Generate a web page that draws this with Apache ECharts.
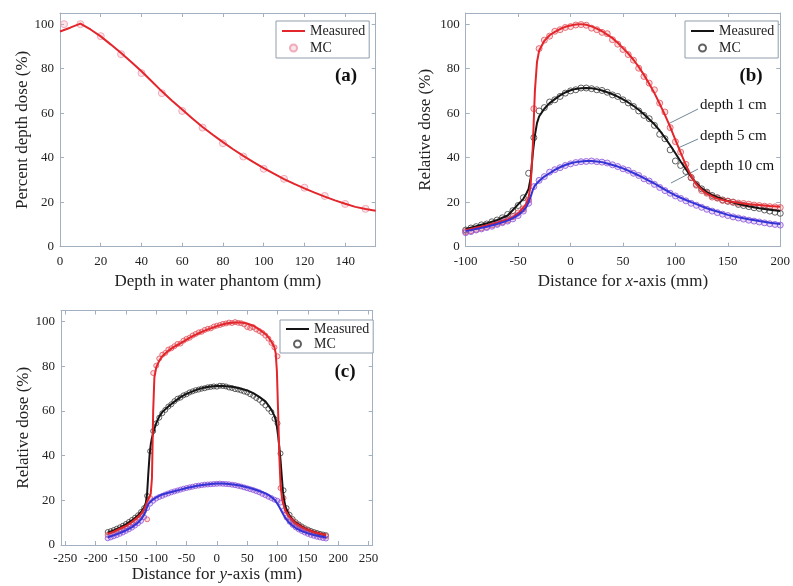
<!DOCTYPE html>
<html>
<head>
<meta charset="utf-8">
<script src="https://cdn.jsdelivr.net/npm/echarts@6/dist/echarts.min.js"></script>
<style>html,body{margin:0;padding:0;background:#fff}#c{width:793px;height:586px}</style>
</head>
<body>
<div id="c"></div>
<script>
// ---------- Panel (a): percent depth dose ----------
const depthA = [0,5,10,15,20,25,30,35,40,45,50,55,60,65,70,75,80,85,90,95,100,105,110,115,120,125,130,135,140,145,150,155];
const measuredA = [96.7,98.4,100.2,97.6,94.5,90.8,87,83,78.8,74.3,69.8,65.6,61.6,57.6,53.8,50.3,47,43.8,40.8,38,35.3,32.8,30.4,28.2,26.2,24.3,22.5,20.8,19.3,17.9,16.9,16.2];
const mcDepthA = [2,10,20,30,40,50,60,70,80,90,100,110,120,130,140,150];
const mcA = [100,100,94.6,86.5,78,69,61,53.5,46.5,40.5,35,30.5,26.5,22.8,19.2,17];

// ---------- Panel (b): x-axis profiles ----------
const xB = [-100,-90,-80,-70,-60,-55,-50,-45,-42,-40,-38,-36,-34,-32,-30,-25,-20,-15,-10,-5,0,5,10,15,20,25,30,35,40,45,50,55,60,65,70,75,80,85,90,95,100,105,110,115,120,125,130,135,140,150,160,170,180,190,200];
const red1cmB = [7.5,8.5,9.5,10.8,12.2, 13.3,15,17.5,19.5,22, 28,45,70,83,88, 92.5,95,96.5,97.8,98.8, 99.4,99.8,100,99.7,99, 98,96.8,95.3,93.7,91.6, 89.2,86.8,84,80.8,77.2, 73.2,69,64.2,59.2,53.8, 48,42.3,36.7,31.8,28, 25.6,23.8,22.6,21.6,20.4, 19.7,19.1,18.7,18.3,18];
const black5cmB = [8,9.2,10.5,12,14, 16.5,19,21.5,24,26, 31,42,50,55.5,58.5, 62,64.5,66.3,68,69.3, 70.3,70.9,71.2,71.3,71.2, 70.8,70.2,69.4,68.5,67.4, 66.2,64.8,63.3,61.5,59.5, 57.3,55,52.2,49,45.6, 42,38.3,34.8,31.5,28.5, 26.2,24.5,23.2,22.2,20.5, 19.2,18.2,17.3,16.6,16];
const blue10cmB = [7,8,9,10.2,11.7, 12.8,14.2,16.2,18,20, 22.5,25.5,27.5,28.5,29.5, 31.5,33,34.5,35.7,36.7, 37.5,38,38.3,38.5,38.5, 38.3,38,37.4,36.7,36, 35.2,34.2,33.1,32,30.8, 29.6,28.4,27,25.6,24.3, 23.1,22,21,20,19.1, 18.2,17.3,16.5,15.8,14.3, 13.2,12.3,11.5,10.8,10.2];
const mcXB = [-100,-95,-90,-85,-80,-75,-70,-65,-60,-55,-50,-45,-40,-35,-30,-25,-20,-15,-10,-5,0,5,10,15,20,25,30,35,40,45,50,55,60,65,70,75,80,85,90,95,100,105,110,115,120,125,130,135,140,145,150,155,160,165,170,175,180,185,190,195,200];
const mcRedB = [6.8,7.2,7.8,8.5,9,9.8,10.5,11.2,12,13.5,15.2,17,21, 62,89,92.8,94.6,96.8,97.5,98.5, 98.9,99.6,99.8,99.5,98.2,97.5,96.3,95.7,93,91, 88.6,86.3,83.8,80.2,76.5,73.5,70.5,64.5,60.5,53.5, 47.2,42.5,37,31.2,27.6,25.2,24,22.3,21.8,20.8, 20.5,20,19.6,19.4,19.1,18.7,18.5,18.2,18,17.9,17.6];
const mcBlackB = [7.5,8.4,9,9.8,10.2,11.2,12,13,14.5,16.2,18.5,22,33, 49,61,62.5,65,66,67.5,69, 70,70.5,71.3,71.3,71,70.5,70.2,69.4,68.2,67.5, 66,64.6,63,61,59,57.5,54.5,50.5,48.5,43.5, 38.5,36.5,33.8,31,28,26,24.5,23,22,21, 20.4,20,19,18.5,18,17.5,17.2,16.5,16,15.5,15];
const mcBlueB = [6.3,6.8,7.5,8,8.6,9.2,10,10.8,11.5,12.5,14,16,19.5, 27,29.8,31.5,33.5,34.6,35.5,36.5, 37.2,37.8,38.2,38.3,38.5,38.2,38,37.6,36.8,36, 35,34.3,33,32,30.5,29.5,28,26.6,25.2,24, 22.8,21.7,20.6,19.5,18.6,17.7,16.8,16,15.3,14.6, 14,13.4,12.9,12.4,11.9,11.5,11.1,10.7,10.3,10,9.7];

// ---------- Panel (c): y-axis profiles ----------
const xC = [-180,-170,-160,-150,-140,-130,-125,-120,-117,-115,-113,-111,-109,-107,-105,-103,-100,-95,-90,-80,-70,-60,-50,-40,-30,-20,-10,0,10,20,30,40,50,60,70,80,85,90,95,97,99,101,103,105,107,109,111,113,115,120,125,130,140,150,160,170,180];
const red1cmC = [5,6,7.3,8.5,10.3, 12.5,14,16,17.8,19.5, 20.5,21.5,23,30,60, 75,79.5,82.5,84.5,87, 88.8,90.3,92,93.5,94.8, 96,97,98,98.8,99.4, 99.6,99.6,99.2,98.2,96.5, 94.5,93,91,88.5,86, 78,60,40,27,22, 19,17,15.5,14.5,12.5, 11,9.7,8,6.7,5.7, 5,4.5];
const black5cmC = [5.5,6.5,7.8,9.2,11, 13.2,14.8,16.8,19,23, 32,40,45,48,50, 52,54.5,57.5,59.5,62, 64.2,66.2,67.7,68.8,69.8, 70.5,71,71.2,71.2,71, 70.6,70,69.2,68,66.3, 64.3,62.5,60.5,57.8,56, 53,49,44,38,31, 24,20,17.5,15.8,13, 11.2,10,8.2,6.8,5.8, 5,4.5];
const blue10cmC = [3.5,4.3,5.3,6.5,8, 10,11.5,13.5,15.5,17, 18.3,19,19.5,20,20.4, 20.8,21.3,22,22.6,23.4, 24.1,24.8,25.5,26.1,26.6, 27,27.3,27.5,27.5,27.3, 27,26.5,25.9,25.1,24.2, 23.1,22.4,21.5,20.3,19.6, 18.8,18,17,16,15, 14,13,12.2,11.4,9.8, 8.6,7.6,6.2,5.2,4.5, 3.9,3.4];
const mcXC = [-180,-175,-170,-165,-160,-155,-150,-145,-140,-135,-130,-125,-120,-115,-110,-105,-100,-95,-90,-85,-80,-75,-70,-65,-60,-55,-50,-45,-40,-35,-30,-25,-20,-15,-10,-5,0,5,10,15,20,25,30,35,40,45,50,55,60,65,70,75,80,85,90,95,100,105,110,115,120,125,130,135,140,145,150,155,160,165,170,175,180];
const mcRedC = [4.5,5,5.6,6.2,6.8,7.6,8.3,9.2,10.1,11.2,12.3, 13.6,15.2,11.5,21,77, 80.3,83.5,85.2,86,87.5,88.1,89,90,90.2,91.5, 92.3,92.8,93.8,94.5,95.2,95.5,96.3,96.8,97,97.8, 98.2,98.5,99,99.2,99.6,99.4,99.8,99.5,99.3,98.8, 97.6,97.2,97.5,96.5,95.8,95,93.8,92.4,90.5,88.5, 84.5,25.5,21,15,12.3,10.8,9.5,8.6,7.8,7, 6.4,5.8,5.3,4.9,4.5,4.2,4];
const mcBlackC = [5.8,6.2,6.7,7.3,7.9,8.6,9.4,10.3,11.2,12.2,13.3, 14.8,16.5,22,42,51, 54.5,57,59,60.5,62,63,64.4,65.5,66,67, 67.5,68.3,68.8,69.3,69.6,70,70.2,70.6,70.8,71, 70.9,71.3,71.2,71,70.5,70.3,69.8,69.6,69.2,68.7, 68.3,67.5,66.8,65.8,65,63.7,62.5,61,59.5,56.5, 54.5,41,24.5,16.5,13.5,11.6,10.2,9.2,8.3,7.5, 6.9,6.3,5.8,5.4,5,4.7,4.4];
const mcBlueC = [3,3.4,3.9,4.4,5,5.6,6.3,7,7.8,8.7,9.7, 10.8,12.5,16.5,18.5,19.8, 20.8,21.5,22,22.6,23.1,23.6,24,24.4,24.8,25.2, 25.5,25.8,26.1,26.4,26.6,26.8,27,27.1,27.2,27.3, 27.4,27.5,27.4,27.3,27.2,27,26.8,26.5,26.2,25.8, 25.4,25,24.6,24.1,23.6,22.9,22.3,21.6,21,20.3, 19.8,19,15.5,12.3,10.4,9,7.9,7,6.3,5.6, 5,4.5,4.1,3.7,3.4,3.1,2.9];

// ---------- tick labels ----------
const ticksXA = [0,20,40,60,80,100,120,140];
const ticksXB = [-100,-50,0,50,100,150,200];
const ticksXC = [-250,-200,-150,-100,-50,0,50,100,150,200,250];
const ticksY = [0,20,40,60,80,100];

const FONT = "'Liberation Serif','Times New Roman',serif";
const BOX = '#a3b0bf';
const RED = '#e3262b', BLACK = '#141414', BLUE = '#3434d6';

function zip(xs, ys){ return xs.map((x,i)=>[x, ys[i]]); }

function xPair(gi, min, max, ticks, name, gap, margin){
  const base = {type:'value', gridIndex:gi, min:min, max:max,
    axisLine:{show:true,onZero:false,lineStyle:{color:BOX,width:1}},
    axisTick:{show:true,inside:true,length:4,customValues:ticks,lineStyle:{color:BOX}},
    splitLine:{show:false}};
  return [
    Object.assign({}, base, {position:'bottom',
      axisLabel:{customValues:ticks,color:'#222',fontFamily:FONT,fontSize:13,margin:margin},
      name:name, nameLocation:'middle', nameGap:gap,
      nameTextStyle:{fontFamily:FONT,fontSize:17,color:'#222',verticalAlign:'top',
        rich:{i:{fontStyle:'italic',fontFamily:FONT,fontSize:17,color:'#222'}}}}),
    Object.assign({}, base, {position:'top', axisLabel:{show:false}})
  ];
}
function yPair(gi, ticks, name, gap){
  const base = {type:'value', gridIndex:gi, min:0, max:105,
    axisLine:{show:true,onZero:false,lineStyle:{color:BOX,width:1}},
    axisTick:{show:true,inside:true,length:4,customValues:ticks,lineStyle:{color:BOX}},
    splitLine:{show:false}};
  return [
    Object.assign({}, base, {position:'left',
      axisLabel:{customValues:ticks,color:'#222',fontFamily:FONT,fontSize:13,margin:6},
      name:name, nameLocation:'middle', nameGap:gap,
      nameTextStyle:{fontFamily:FONT,fontSize:17,color:'#222'}}),
    Object.assign({}, base, {position:'right', axisLabel:{show:false}})
  ];
}

function lineS(name, xi, data, color){
  return {type:'line', name:name, xAxisIndex:xi, yAxisIndex:xi, data:data,
    showSymbol:false, symbol:'none', lineStyle:{color:color,width:2}, itemStyle:{color:color}, z:3, silent:true};
}
function mcS(name, xi, data, stroke, fill, size){
  return {type:'scatter', name:name, xAxisIndex:xi, yAxisIndex:xi, data:data,
    symbol:'circle', symbolSize:size,
    itemStyle:{color:fill, borderColor:stroke, borderWidth:1}, z:2, silent:true};
}

const legendBase = {orient:'vertical', itemWidth:23, itemHeight:7, borderColor:'#8f9dab', borderWidth:1,
  backgroundColor:'#fff', formatter:(n)=>n.split(' ')[0],
  textStyle:{fontFamily:FONT,fontSize:14,color:'#222'}};
function legItems(p){
  return [{name:'Measured '+p, itemStyle:{opacity:0}}, {name:'MC '+p}];
}

const option = {
  animation:false,
  backgroundColor:'#fff',
  grid:[
    {left:60, top:13, width:315.7, height:233.7},
    {left:465.7, top:13, width:315, height:233.7},
    {left:61, top:310.5, width:311.7, height:234.5}
  ],
  xAxis:[].concat(
    xPair(0, 0, 155, ticksXA, 'Depth in water phantom (mm)', 26, 8),
    xPair(1, -100, 200, ticksXB, 'Distance for {i|x}-axis (mm)', 26, 8),
    xPair(2, -257, 257, ticksXC, 'Distance for {i|y}-axis (mm)', 21, 7)
  ),
  yAxis:[].concat(
    yPair(0, ticksY, 'Percent depth dose (%)', 29),
    yPair(1, ticksY, 'Relative dose (%)', 32),
    yPair(2, ticksY, 'Relative dose (%)', 29)
  ),
  legend:[
    Object.assign({}, legendBase, {left:276, top:21, itemGap:3, padding:[3,4,3,5], data:legItems('a')}),
    Object.assign({}, legendBase, {left:685, top:21, itemGap:3, padding:[3,4,3,5], data:legItems('b')}),
    Object.assign({}, legendBase, {left:280, top:320, itemGap:1, padding:[2,4,2,5], data:legItems('c')})
  ],
  series:[
    mcS('MC a', 0, zip(mcDepthA, mcA), '#ec9aab', 'rgba(240,160,180,0.35)', 7),
    lineS('Measured a', 0, zip(depthA, measuredA), RED),

    mcS('MC b', 2, zip(mcXB, mcBlackB), '#3a3a3a', 'rgba(0,0,0,0)', 6),
    mcS('MC b red', 2, zip(mcXB, mcRedB), '#e2505a', 'rgba(230,90,100,0.25)', 6),
    mcS('MC b blue', 2, zip(mcXB, mcBlueB), '#8c52da', 'rgba(140,80,220,0.25)', 6),
    lineS('Measured b', 2, zip(xB, black5cmB), BLACK),
    lineS('Measured b red', 2, zip(xB, red1cmB), RED),
    lineS('Measured b blue', 2, zip(xB, blue10cmB), BLUE),

    mcS('MC c', 4, zip(mcXC, mcBlackC), '#3a3a3a', 'rgba(0,0,0,0)', 5),
    mcS('MC c red', 4, zip(mcXC, mcRedC), '#e2505a', 'rgba(230,90,100,0.25)', 5),
    mcS('MC c blue', 4, zip(mcXC, mcBlueC), '#8c52da', 'rgba(140,80,220,0.25)', 5),
    lineS('Measured c', 4, zip(xC, black5cmC), BLACK),
    lineS('Measured c red', 4, zip(xC, red1cmC), RED),
    lineS('Measured c blue', 4, zip(xC, blue10cmC), BLUE)
  ],
  graphic:[
    {type:'text', x:346, y:76, style:{text:'(a)', font:'bold 19px '+FONT, fill:'#111', align:'center', verticalAlign:'middle'}},
    {type:'text', x:751, y:76, style:{text:'(b)', font:'bold 19px '+FONT, fill:'#111', align:'center', verticalAlign:'middle'}},
    {type:'text', x:345, y:372, style:{text:'(c)', font:'bold 19px '+FONT, fill:'#111', align:'center', verticalAlign:'middle'}},
    {type:'text', x:700, y:105, style:{text:'depth 1 cm', font:'15px '+FONT, fill:'#111', align:'left', verticalAlign:'middle'}},
    {type:'text', x:700, y:136, style:{text:'depth 5 cm', font:'15px '+FONT, fill:'#111', align:'left', verticalAlign:'middle'}},
    {type:'text', x:700, y:166, style:{text:'depth 10 cm', font:'15px '+FONT, fill:'#111', align:'left', verticalAlign:'middle'}},
    {type:'line', shape:{x1:698, y1:109, x2:668, y2:124}, style:{stroke:'#6f8797', lineWidth:1}},
    {type:'line', shape:{x1:698, y1:139, x2:678, y2:148}, style:{stroke:'#6f8797', lineWidth:1}},
    {type:'line', shape:{x1:698, y1:169, x2:671, y2:183}, style:{stroke:'#6f8797', lineWidth:1}}
  ]
};

const chart = echarts.init(document.getElementById('c'), null, {renderer:'canvas'});
chart.setOption(option);
</script>
</body>
</html>
